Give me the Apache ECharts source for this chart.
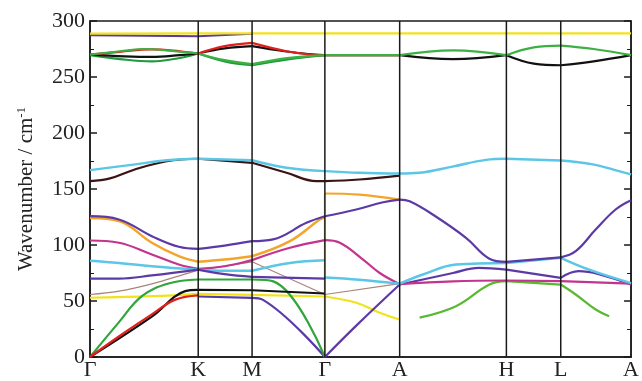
<!DOCTYPE html>
<html>
<head>
<meta charset="utf-8">
<script src="https://cdn.jsdelivr.net/npm/echarts@6/dist/echarts.min.js"></script>
<style>html,body{margin:0;padding:0;background:#fff}#c{width:642px;height:381px}</style>
</head>
<body>
<div id="c"></div>
<script>
// High-symmetry path labels and positions (path distance units)
const kLabels = ['Γ','K','M','Γ','A','H','L','A'];
const kPos = [0, 108.5, 162.5, 235.5, 310.5, 417.5, 472, 542.5];
const yMin = 0, yMax = 300, yStep = 50;

// High-frequency bands (~260-290 cm-1)
const hiYellow = [[0,288.8],[108.5,289],[162.5,289],[235.5,289],[310.5,289],[417.5,289],[472,289],[542.5,289]];
const hiPurple = [[0,287.3],[108.5,286.4],[162.5,288.6]];
const hiGreenB = [[0,269.5],[30,266],[62,264],[90,267],[108.5,271],[135,264],[162.5,260.5],[200,266],[235.5,269.5]];
const hiBlack = [[0,270],[35,268.5],[62,268],[90,269.5],[108.5,271],[135,275.5],[162.5,277.5],[195,273],[225,270],[235.5,269.5],[310.5,269.5],[364,266],[417.5,269.5],[445,262],[472,260.5],[505,264],[542.5,269.5]];
const hiRed = [[0,270],[30,272.5],[62,274.6],[90,273],[108.5,271],[135,277.5],[162.5,280.5],[197,273],[222,270],[235.5,269.5],[310.5,269.5]];
const hiGreenA = [[0,270],[30,273],[55,275],[85,273],[108.5,271],[135,265],[162.5,261.5],[200,267],[235.5,269.5],[310.5,269.5],[364,273.7],[417.5,269.5],[445,276.5],[472,278],[505,275],[542.5,269.5]];

// Middle bands (~155-180 cm-1)
const midMaroon = [[0,157],[20,159.5],[43.5,167],[77,174.8],[108.5,177],[162.5,173.4],[197,164.5],[227,157],[235.5,157],[270,158.5],[310.5,162]];
const midCyan = [[0,166.8],[43.5,171.8],[77,175.7],[108.5,177],[162.5,175.7],[197,169],[235.5,166],[270,164.5],[310.5,163.8],[330.5,164.5],[363.5,170],[397,176],[417.5,177],[472,175.5],[504,172],[530.5,166],[542.5,163]];

// Lower optical bands
const purpleTop = [[0,125.7],[29,122.8],[62,107.9],[89,98.4],[108.5,96.6],[135,99.5],[162.5,103.4],[183.5,105],[217,119.8],[235.5,125.7],[267,131.7],[294,138.2],[310.5,140.5],[320.5,139],[344,127],[377,106.4],[400,88],[417.5,85],[472,89],[487,94.5],[507,113.8],[527,131.7],[542.5,140]];
const orangeGK = [[0,124],[29,121.3],[62,102],[89,90],[108.5,85],[135,87],[162.5,90],[200.5,103.4],[230.5,122.8],[235.5,124.3]];
const orangeGA = [[235.5,146],[270,145],[310.5,140.5]];
const magenta = [[0,104],[29,102],[62,91.5],[89,82.6],[108.5,78.7],[135,81],[162.5,86.5],[200.5,97.5],[235.5,104.3],[250.5,102],[273.8,87],[290.5,75],[310.5,65],[364,67.5],[417.5,68.3],[472,67.7],[542.5,65.5]];
const cyanLowA = [[0,86],[29,84],[62,81],[108.5,78],[135,77],[162.5,77],[200.5,84],[235.5,86.4]];
const cyanLowB = [[235.5,71],[270,69],[310.5,65.5],[333.8,73.7],[367,82.6],[417.5,84],[472,88.6],[500.5,78],[542.5,66]];
const purpleMidA = [[0,70],[29,70],[62,72.8],[108.5,78],[135,74],[162.5,71.6],[235.5,70]];
const purpleMidB = [[235.5,0],[267,28],[310.5,64.7],[364,75],[390,79.6],[417.5,78],[472,70.7],[490,76.6],[510,74],[542.5,64.7]];
const brown = [[0,55.8],[29,58.8],[62,65.3],[95,74],[108.5,77.5],[162.5,85],[235.5,55.8],[310.5,65.5]];
const yellowLow = [[0,52.9],[62,54.3],[108.5,56.4],[162.5,55.5],[235.5,54],[267,48.4],[290.5,39.5],[310.5,33.5]];
const greenAHLA = [[330.5,35.2],[367,45.4],[400.5,64.7],[417.5,67.7],[472,64.7],[487,55.8],[507,42.4],[520.5,36.4]];

// Acoustic bands
const purpleLow = [[108.5,54],[162.5,52.8],[173.5,51],[235.5,0]];
const greenAc = [[0,0],[28.5,30.5],[52,54.3],[78.8,65.6],[108.5,69.2],[162.5,69.2],[183.8,67.5],[235.5,0]];
const blackAc = [[0,0],[62,36],[95.5,58.8],[108.5,60],[162.5,59.6],[235.5,56.7]];
const redAc = [[0,0],[30,19],[62,38],[85,51],[108.5,55]];
const paleGamma = [[235.5,0],[235.5,146]];

const serif = 'serif';

// split a band at the high-symmetry points so kinks there stay sharp
function splitAtK(data) {
  const segs = [];
  let cur = [];
  data.forEach((p, i) => {
    cur.push(p);
    if (i > 0 && i < data.length - 1 && kPos.indexOf(p[0]) > 0 && kPos.indexOf(p[0]) < kPos.length - 1) {
      segs.push(cur);
      cur = [p];
    }
  });
  if (cur.length > 1) segs.push(cur);
  return segs;
}

function band(data, color, width) {
  return splitAtK(data).map(seg => ({
    type: 'line', data: seg, showSymbol: false, symbol: 'none',
    smooth: 0.4, silent: true,
    lineStyle: { color: color, width: width || 2.2 },
    z: 3
  }));
}

const vLines = kPos.slice(1, kPos.length - 1).map(x => ({
  type: 'line', data: [[x, yMin], [x, yMax]], showSymbol: false, symbol: 'none', silent: true,
  lineStyle: { color: '#1a1a1a', width: 1.5 }, z: 5
}));

const PURPLE = '#5b3aa6', ORANGE = '#f5a42a', MAGENTA = '#c2358f', CYAN = '#5cc6e6',
      GREEN = '#2fa53a', YELLOW = '#f2e21c', RED = '#e0201c', BLACK = '#111', BROWN = '#a8847a', MAROON = '#3a1414';

const series = [].concat(
  band(paleGamma, '#eeeaa0', 2.5),
  band(hiPurple, PURPLE),
  band(hiYellow, YELLOW),
  band(hiGreenB, '#1f9a3c'),
  band(hiBlack, BLACK),
  band(hiRed, RED),
  band(hiGreenA, '#3cb043'),
  band(midMaroon, MAROON),
  band(midCyan, CYAN, 2.4),
  band(brown, BROWN, 1.2),
  band(yellowLow, YELLOW),
  band(greenAHLA, '#5ab832'),
  band(purpleMidB, PURPLE),
  band(magenta, MAGENTA),
  band(cyanLowA, CYAN, 2.5),
  band(cyanLowB, CYAN, 2.5),
  band(purpleMidA, PURPLE),
  band(orangeGK, ORANGE, 2.5),
  band(orangeGA, ORANGE, 2.2),
  band(purpleTop, PURPLE),
  band(purpleLow, PURPLE),
  band(greenAc, GREEN),
  band(blackAc, BLACK),
  band(redAc, RED),
  vLines
);

const chart = echarts.init(document.getElementById('c'), null, { renderer: 'canvas' });
chart.setOption({
  animation: false,
  backgroundColor: '#fff',
  grid: { left: 90, right: 10, top: 21, bottom: 24, show: true, borderColor: '#1a1a1a', borderWidth: 1.5, backgroundColor: 'transparent' },
  xAxis: {
    type: 'value', min: kPos[0], max: kPos[kPos.length - 1],
    axisLine: { show: true, lineStyle: { color: '#1a1a1a', width: 1.5 } },
    axisTick: { show: false },
    splitLine: { show: false },
    axisLabel: {
      customValues: kPos,
      formatter: function (v) { const i = kPos.indexOf(v); return i >= 0 ? kLabels[i] : ''; },
      fontFamily: serif, fontSize: 22, color: '#222', margin: 2
    }
  },
  yAxis: [{
    type: 'value', min: yMin, max: yMax, interval: yStep,
    name: 'Wavenumber / cm{sup|-1}', nameLocation: 'middle', nameGap: 52, nameRotate: 90,
    nameTextStyle: { fontFamily: serif, fontSize: 21, color: '#222',
      rich: { sup: { fontFamily: serif, fontSize: 13, color: '#222', verticalAlign: 'top', padding: [0, 0, 10, 0] } } },
    axisLine: { show: true, lineStyle: { color: '#1a1a1a', width: 1.5 } },
    axisTick: { show: true, inside: true, length: 7, lineStyle: { color: '#1a1a1a', width: 1.5 } },
    minorTick: { show: true, splitNumber: 2, length: 4, lineStyle: { color: '#1a1a1a', width: 1 } },
    splitLine: { show: false },
    axisLabel: { fontFamily: serif, fontSize: 22, color: '#222', margin: 5 }
  }, {
    type: 'value', min: yMin, max: yMax, interval: yStep, position: 'right',
    axisLine: { show: true, lineStyle: { color: '#1a1a1a', width: 1.5 } },
    axisTick: { show: true, inside: true, length: 7, lineStyle: { color: '#1a1a1a', width: 1.5 } },
    minorTick: { show: true, splitNumber: 2, length: 4, lineStyle: { color: '#1a1a1a', width: 1 } },
    splitLine: { show: false },
    axisLabel: { show: false }
  }],
  series: series
});
</script>
</body>
</html>
